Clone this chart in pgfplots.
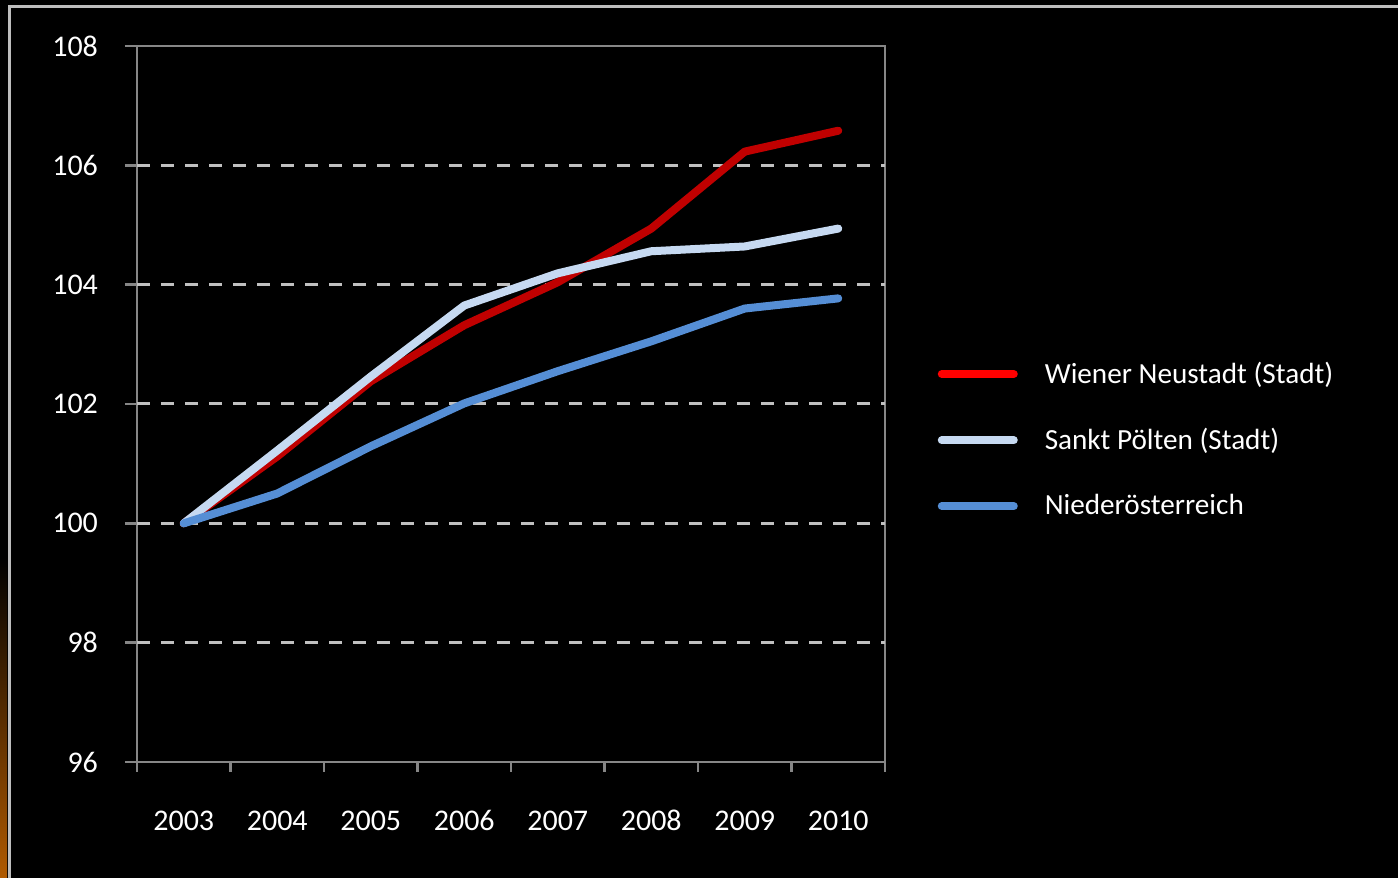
\documentclass[border=0pt]{standalone}
\usepackage{fontspec}
\setmainfont{Carlito}
\usepackage{pgfplots}
\pgfplotsset{compat=1.18}
\definecolor{wnred}{HTML}{C00000}
\definecolor{wnlegend}{HTML}{FF0000}
\definecolor{stp}{HTML}{C6D9F1}
\definecolor{noe}{HTML}{558ED5}
\definecolor{axgrey}{HTML}{868686}
\definecolor{gridgrey}{HTML}{C0C0C0}
\definecolor{frame}{HTML}{BEBEBE}
\definecolor{slideorange}{HTML}{B05A00}

\pgfplotstableread{
x val
0 100.00
1 101.12
2 102.38
3 103.32
4 104.04
5 104.94
6 106.23
7 106.58
}\wiener
\pgfplotstableread{
x val
0 100.00
1 101.22
2 102.46
3 103.65
4 104.19
5 104.56
6 104.64
7 104.94
}\stpoelten
\pgfplotstableread{
x val
0 100.00
1 100.50
2 101.29
3 102.01
4 102.55
5 103.05
6 103.60
7 103.77
}\noe

\begin{document}
\begin{tikzpicture}
\useasboundingbox (0,0) rectangle (699pt,439pt);
\fill[black] (0,0) rectangle (699pt,439pt);
\shade[top color=black, bottom color=slideorange] (0,0) rectangle (3.6pt,160pt);
\draw[frame, line width=1.5pt] (4.5pt,0) -- (4.5pt,435.5pt) -- (699pt,435.5pt);
\begin{axis}[
  at={(68.5pt,58pt)}, anchor=south west,
  scale only axis, width=374pt, height=358pt,
  xmin=-0.5, xmax=7.5, ymin=96, ymax=108,
  axis line style={axgrey, line width=1.2pt},
  xtick={0,...,7},
  xticklabels={2003,2004,2005,2006,2007,2008,2009,2010},
  minor xtick={-0.5,0.5,...,7.5},
  ytick={96,98,...,108},
  xtick pos=bottom, ytick pos=left,
  tick align=outside,
  major x tick style={draw=none},
  minor x tick style={axgrey, line width=1.2pt},
  minor tick length=5pt,
  major y tick style={axgrey, line width=1.2pt},
  major tick length=6pt,
  extra y ticks={98,100,...,106},
  extra y tick labels={},
  extra y tick style={grid=major, major tick length=0pt,
    major grid style={gridgrey, line width=1.5pt, dash pattern=on 6.5pt off 5.5pt}},
  ticklabel style={text=white, font=\fontsize{15}{18}\selectfont},
  /pgf/number format/assume math mode=true,
  xticklabel style={anchor=north, text height=10pt, text depth=0pt, yshift=-14.5pt},
  yticklabel style={xshift=-10pt},
  legend style={draw=none, fill=none, at={(1.062,0.45)}, anchor=west,
    text=white, font=\fontsize{14.6}{18}\selectfont,
    row sep=17pt, legend cell align=left,
    nodes={inner xsep=13.5pt}},
  legend image code/.code={\draw[#1] (0pt,0pt) -- (36pt,0pt);},
]
\addlegendimage{wnlegend, line width=4pt, line cap=round}
\addlegendentry{Wiener Neustadt (Stadt)}
\addlegendimage{stp, line width=4pt, line cap=round}
\addlegendentry{Sankt Pölten (Stadt)}
\addlegendimage{noe, line width=4pt, line cap=round}
\addlegendentry{Niederösterreich}
\addplot[wnred, line width=4pt, line cap=round, line join=round, forget plot] table[x=x, y=val] {\wiener};
\addplot[stp, line width=4pt, line cap=round, line join=round, forget plot] table[x=x, y=val] {\stpoelten};
\addplot[noe, line width=4pt, line cap=round, line join=round, forget plot] table[x=x, y=val] {\noe};
\end{axis}
\end{tikzpicture}
\end{document}
